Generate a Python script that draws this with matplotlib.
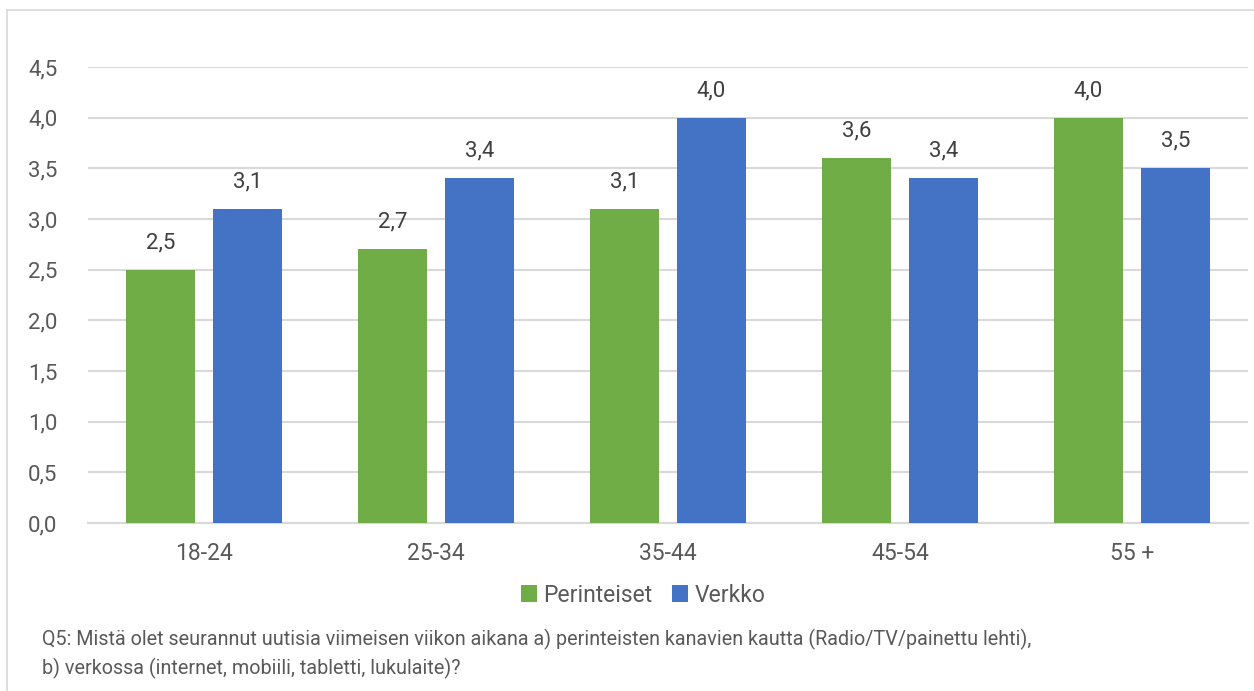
import matplotlib
matplotlib.use("Agg")
import matplotlib.pyplot as plt
from matplotlib.lines import Line2D
import numpy as np

categories = ["18-24", "25-34", "35-44", "45-54", "55 +"]
perinteiset = [2.5, 2.7, 3.1, 3.6, 4.0]
verkko = [3.1, 3.4, 4.0, 3.4, 3.5]
series_names = ["Perinteiset", "Verkko"]
yticks = [0.0, 0.5, 1.0, 1.5, 2.0, 2.5, 3.0, 3.5, 4.0, 4.5]
footnote = ("Q5: Mistä olet seurannut uutisia viimeisen viikon aikana a) perinteisten kanavien kautta (Radio/TV/painettu lehti),\n"
            "b) verkossa (internet, mobiili, tabletti, lukulaite)?")

GREEN = "#70AD47"
BLUE = "#4472C4"
TEXT = "#595959"
GRID = "#D9D9D9"

plt.rcParams['font.family'] = ['Roboto', 'DejaVu Sans']

W, H = 1254, 691
fig = plt.figure(figsize=(W / 100, H / 100), dpi=100)
ax = fig.add_axes([88 / W, 1 - 523 / H, (1248 - 88) / W, (523 - 67) / H])

x = np.arange(len(categories))
bw = 0.297
off = 0.1875
b1 = ax.bar(x - off, perinteiset, bw, color=GREEN, label=series_names[0], zorder=3)
b2 = ax.bar(x + off, verkko, bw, color=BLUE, label=series_names[1], zorder=3)

for bars, vals in ((b1, perinteiset), (b2, verkko)):
    for r, v in zip(bars, vals):
        ax.annotate(f"{v:.1f}".replace(".", ","),
                    (r.get_x() + r.get_width() / 2, r.get_height()),
                    xytext=(0, 12), textcoords="offset points",
                    ha="center", va="bottom", fontsize=16, color="#404040")

ax.set_xlim(-0.5, len(categories) - 0.5)
ax.set_ylim(0, 4.5)
ax.set_yticks(yticks)
ax.set_yticklabels([f"{t:.1f}".replace(".", ",") for t in yticks], fontsize=16, color=TEXT)
ax.set_xticks(x)
ax.set_xticklabels(categories, fontsize=16.5, color=TEXT)
ax.tick_params(axis="both", length=0)
ax.tick_params(axis="y", pad=22)
ax.tick_params(axis="x", pad=14)
ax.yaxis.grid(True, color=GRID, linewidth=1.5, zorder=0)
ax.set_axisbelow(True)
for s in ["top", "right", "left"]:
    ax.spines[s].set_visible(False)
ax.spines["bottom"].set_color(GRID)
ax.spines["bottom"].set_linewidth(1.5)

leg = fig.legend(handles=[b1, b2], labels=series_names, loc="center",
                 bbox_to_anchor=(643 / W, 1 - 595 / H), ncol=2, frameon=False,
                 fontsize=16.5, handlelength=0.7, handleheight=0.7,
                 handletextpad=0.25, columnspacing=0.9)
for t in leg.get_texts():
    t.set_color(TEXT)

fig.text(42 / W, 1 - 629 / H, footnote, fontsize=14.2, color=TEXT,
         ha="left", va="top", linespacing=1.45)

# outer chart border (left and top visible)
fig.add_artist(Line2D([7 / W, 7 / W], [0, 1 - 10 / H], transform=fig.transFigure,
                      color=GRID, linewidth=1.2))
fig.add_artist(Line2D([7 / W, 1], [1 - 10 / H, 1 - 10 / H], transform=fig.transFigure,
                      color=GRID, linewidth=1.2))

fig.savefig("out.png", dpi=100)
